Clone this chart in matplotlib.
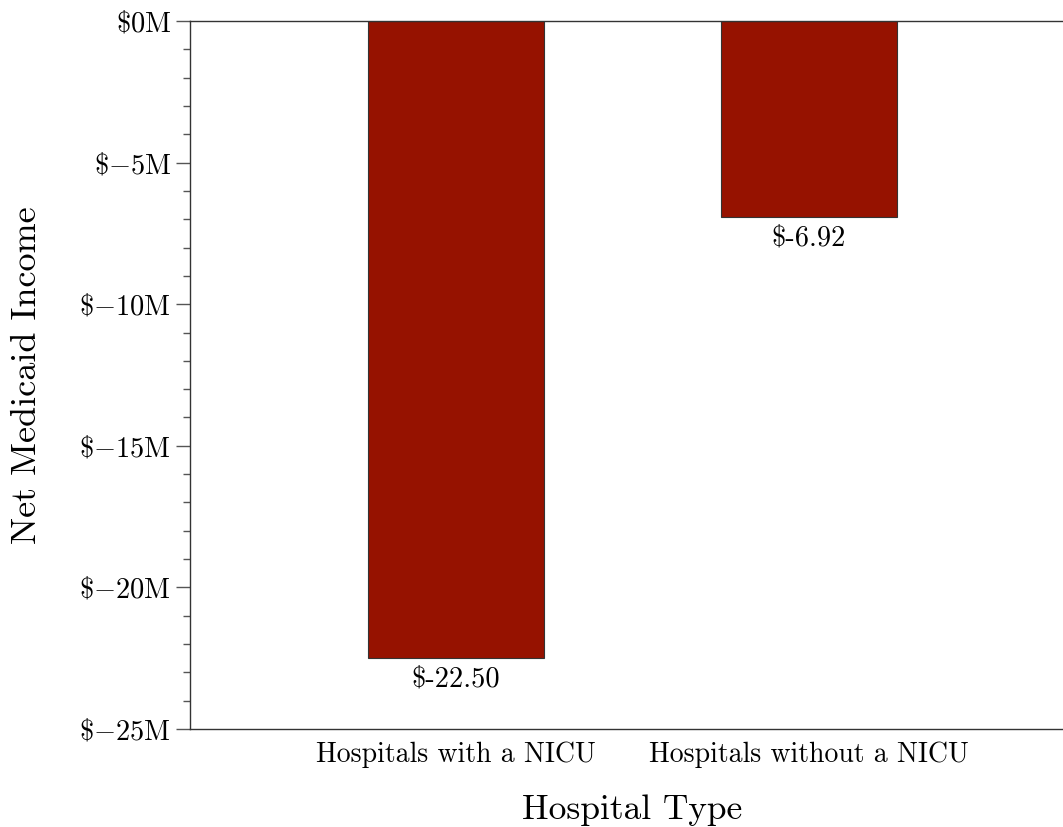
import matplotlib
matplotlib.use("Agg")
import matplotlib.pyplot as plt
from matplotlib.ticker import FuncFormatter, MultipleLocator

categories = ["Hospitals with a NICU", "Hospitals without a NICU"]
net_income = [-22.50, -6.92]  # $M

plt.rcParams["font.family"] = "serif"
plt.rcParams["font.serif"] = ["cmr10"]
plt.rcParams["mathtext.fontset"] = "cm"
plt.rcParams["axes.formatter.use_mathtext"] = True


def money(v, pos):
    v = round(v)
    if v == 0:
        return r"$\$0\mathrm{M}$"
    return r"$\${-}%d\mathrm{M}$" % abs(v)


fig = plt.figure(figsize=(10.63, 8.27), dpi=100)
# axes runs a little past the right edge, like the cropped original
ax = fig.add_axes([190 / 1063, 98 / 827, 884 / 1063, 708 / 827])

x = list(range(len(categories)))
bars = ax.bar(x, net_income, width=0.5, color="#961200", edgecolor="#333333", linewidth=0.8)
ax.bar_label(bars, labels=[f"${v:.2f}" for v in net_income], padding=6, fontsize=20.5)

ax.set_xlim(-0.7535, 1.751)
ax.set_ylim(-25, 0)
ax.set_xticks(x)
ax.set_xticklabels(categories, fontsize=20)
ax.tick_params(axis="x", length=0, pad=9)

ax.yaxis.set_major_locator(MultipleLocator(5))
ax.yaxis.set_minor_locator(MultipleLocator(1))
ax.yaxis.set_major_formatter(FuncFormatter(money))
ax.tick_params(axis="y", which="major", length=10, width=1, color="#555555", labelsize=20.5)
ax.tick_params(axis="y", which="minor", length=5, width=1, color="#555555")

ax.spines["right"].set_visible(False)
for s in ["left", "top", "bottom"]:
    ax.spines[s].set_color("#333333")
    ax.spines[s].set_linewidth(1)

ax.set_xlabel("Hospital Type", fontsize=25.5, labelpad=19)
ax.set_ylabel("Net Medicaid Income", fontsize=26, labelpad=26)

fig.savefig("out.png", dpi=100)
